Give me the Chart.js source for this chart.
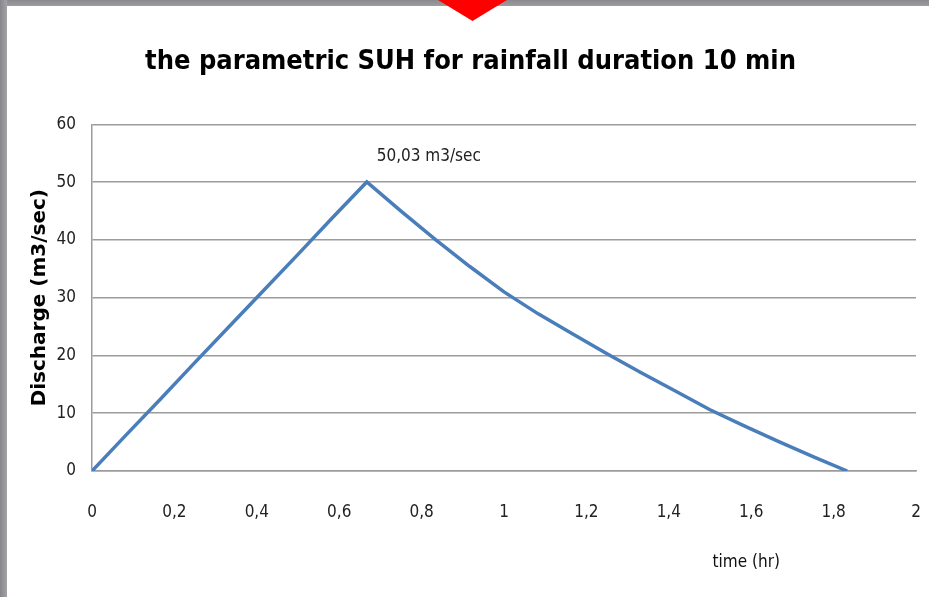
<!DOCTYPE html>
<html>
<head>
<meta charset="utf-8">
<script src="https://cdn.jsdelivr.net/npm/chart.js@4.4.1/dist/chart.umd.min.js"></script>
<style>
  html, body { margin: 0; padding: 0; background: #ffffff; overflow: hidden; }
  #wrap { position: relative; width: 929px; height: 597px; }
  #chart { position: absolute; left: 0; top: 0; }
  .band-top { position: absolute; left: 0; top: 0; width: 929px; height: 6px;
    background: linear-gradient(#8a8a8e, #9d9da1); z-index: 2; }
  .band-left { position: absolute; left: 0; top: 0; width: 7px; height: 597px;
    background: linear-gradient(90deg, #86868a, #a4a4a8); z-index: 2; }
  .marker { position: absolute; left: 438px; top: 0; width: 69px; height: 21px;
    background: #ff0000; clip-path: polygon(0 0, 100% 0, 50% 100%); z-index: 3; }
</style>
</head>
<body>
<div id="wrap">
  <canvas id="chart" width="929" height="597"></canvas>
  <div class="band-top"></div>
  <div class="band-left"></div>
  <div class="marker"></div>
</div>
<script>
// values (5 min steps)
const timeHr = [0, 0.083, 0.167, 0.25, 0.333, 0.417, 0.5, 0.583, 0.667,
  0.75, 0.833, 0.917, 1.0, 1.083, 1.167, 1.25, 1.333, 1.417, 1.5, 1.583, 1.667, 1.75, 1.833];
const discharge = [0, 6.25, 12.5, 18.8, 25.0, 31.3, 37.5, 43.8, 50.03,
  45.0, 40.1, 35.4, 31.0, 27.2, 23.7, 20.3, 17.0, 13.8, 10.6, 7.8, 5.1, 2.5, 0];
const peakLabel = '50,03 m3/sec';
const chartTitle = 'the parametric SUH for rainfall duration 10 min';
const xTitle = 'time (hr)';
const yTitle = 'Discharge (m3/sec)';

const narrow = '"Liberation Sans Narrow", "DejaVu Sans Condensed", sans-serif';
const gridColor = '#9c9c9c';

const points = timeHr.map((t, i) => ({ x: t, y: discharge[i] }));

const commaTick = v => String(Number(v.toFixed(1))).replace('.', ',');

// peak label and the x title, drawn on top of the chart
const labelsPlugin = {
  id: 'extraLabels',
  afterDraw(chart) {
    const ctx = chart.ctx;
    const xs = chart.scales.x, ys = chart.scales.y;
    let iMax = 0;
    discharge.forEach((v, i) => { if (v > discharge[iMax]) iMax = i; });
    const px = xs.getPixelForValue(timeHr[iMax]);
    const py = ys.getPixelForValue(discharge[iMax]);
    ctx.save();
    ctx.fillStyle = '#222222';
    ctx.font = '17px ' + narrow;
    ctx.textAlign = 'center';
    ctx.textBaseline = 'middle';
    ctx.fillText(peakLabel, px + 62, py - 25);

    const area = chart.chartArea;
    ctx.font = '17px ' + narrow;
    ctx.fillStyle = '#111111';
    ctx.fillText(xTitle, area.left + (area.right - area.left) * 0.794, 563);
    ctx.restore();
  }
};

new Chart(document.getElementById('chart'), {
  type: 'line',
  data: {
    datasets: [{
      data: points,
      borderColor: '#4a7ebb',
      borderWidth: 3.5,
      pointRadius: 0,
      tension: 0,
      fill: false
    }]
  },
  options: {
    responsive: false,
    animation: false,
    layout: { padding: { left: 25, right: 13, top: 0, bottom: 0 } },
    plugins: {
      legend: { display: false },
      tooltip: { enabled: false },
      title: {
        display: true,
        text: chartTitle,
        color: '#000000',
        font: { family: narrow, size: 27, weight: 'bold', lineHeight: 1.2 },
        padding: { top: 46, bottom: 46 }
      }
    },
    scales: {
      x: {
        type: 'linear',
        min: 0,
        max: 2,
        grid: { display: false, drawTicks: false },
        border: { display: true, color: gridColor, width: 1.5 },
        ticks: {
          stepSize: 0.2,
          padding: 31,
          color: '#222222',
          font: { family: narrow, size: 17 },
          maxRotation: 0,
          callback: commaTick
        },
        afterFit: s => { s.height = 126; s.paddingLeft = 0; s.paddingRight = 0; }
      },
      y: {
        min: 0,
        max: 60,
        grid: { color: gridColor, lineWidth: 1.5, drawTicks: false },
        border: { display: true, color: gridColor, width: 1.5 },
        ticks: {
          stepSize: 10,
          padding: 16,
          color: '#222222',
          font: { family: narrow, size: 17 }
        },
        title: {
          display: true,
          text: yTitle,
          color: '#000000',
          font: { family: '"DejaVu Sans", Verdana, sans-serif', size: 20, weight: 'bold' },
          padding: { top: 3, bottom: 0 }
        },
        afterFit: s => { s.width = 67; s.paddingTop = 0; s.paddingBottom = 0; }
      }
    }
  },
  plugins: [labelsPlugin]
});
</script>
</body>
</html>
